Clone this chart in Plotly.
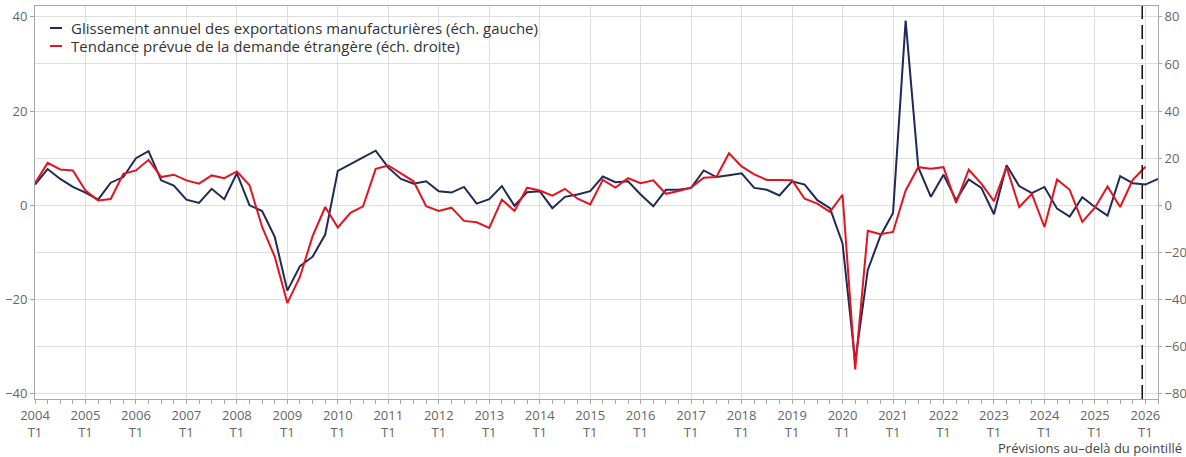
import plotly.graph_objects as go

# quarters 2004 T1 .. 2026 T2
years = list(range(2004, 2027))
quarters = [f"{y} T{q}" for y in years for q in range(1, 5)][:90]
idx = list(range(len(quarters)))

exports_yoy = [
    4.4, 7.7, 5.6, 3.9, 2.7, 1.2, 4.8, 6.0, 10.0, 11.5, 5.3, 4.2, 1.2, 0.5, 3.5, 1.3,
    6.8, 0.0, -1.2, -6.7, -18.1, -12.9, -10.9, -6.2, 7.3, 8.8, 10.2, 11.6, 8.0, 5.6, 4.6, 5.1,
    3.0, 2.7, 3.9, 0.35, 1.3, 4.1, -0.1, 2.8, 3.0, -0.6, 1.8, 2.3, 3.0, 6.1, 4.9, 5.1,
    2.3, -0.2, 3.3, 3.3, 3.7, 7.4, 6.0, 6.4, 6.8, 3.7, 3.3, 2.1, 5.1, 4.4, 1.1, -0.6,
    -8.1, -33.2, -13.7, -6.5, -1.6, 39.2, 8.1, 1.8, 6.5, 1.1, 5.5, 3.7, -1.9, 8.5, 4.1, 2.6,
    3.9, -0.7, -2.4, 1.7, -0.35, -2.2, 6.2, 4.7, 4.4, 5.6,
]

foreign_demand = [
    9.4, 18.0, 15.2, 14.8, 6.3, 2.1, 2.7, 13.4, 14.8, 19.3, 12.0, 13.0, 10.6, 9.2, 12.7, 11.5,
    14.4, 8.5, -9.2, -21.8, -41.5, -30.3, -13.1, -0.7, -9.4, -3.2, -0.4, 15.5, 16.9, 13.7, 10.2, -0.4,
    -2.4, -1.0, -6.6, -7.2, -9.6, 2.4, -2.4, 7.5, 6.3, 4.1, 7.0, 2.8, 0.4, 10.8, 7.5, 11.5,
    9.4, 10.6, 4.9, 6.1, 7.5, 11.7, 12.0, 22.1, 16.5, 13.1, 10.8, 10.7, 10.6, 2.8, 0.7, -2.8,
    4.5, -69.6, -10.8, -12.3, -11.3, 6.3, 16.2, 15.5, 16.2, 1.0, 15.1, 9.2, 1.8, 16.2, -0.7, 4.9,
    -9.2, 11.0, 6.6, -7.0, -1.0, 8.0, -0.7, 10.8, 16.4,
]

series_names = [
    "Glissement annuel des exportations manufacturières (éch. gauche)",
    "Tendance prévue de la demande étrangère (éch. droite)",
]

forecast_start = 87.75  # position of the dashed line

tick_vals = idx[::4]
tick_text = [f"{y}<br>T1" for y in years]

NAVY = "#1f2a56"
RED = "#e3141f"
GRID = "#dedede"
AXIS = "#a8a8a8"
TICKF = dict(family="Open Sans", size=13, color="#666666")

W, H = 1186, 457
ML, MR, MT, MB = 35, 28, 6, 58
PW, PH = W - ML - MR, H - MT - MB


def px_x(x):
    return (x - ML) / PW


def px_y(y):
    return (H - MB - y) / PH


fig = go.Figure()

fig.add_trace(go.Scatter(
    x=idx, y=exports_yoy, mode="lines", name=series_names[0],
    line=dict(color=NAVY, width=2),
))
fig.add_trace(go.Scatter(
    x=idx[:len(foreign_demand)], y=foreign_demand, mode="lines", yaxis="y2",
    name=series_names[1], line=dict(color=RED, width=2),
))

fig.add_vline(x=forecast_start, line=dict(color="#111111", width=1.5, dash="14px,6px"))

# legend drawn by hand: white box over the grid, short line keys, text
fig.add_shape(type="rect", xref="paper", yref="paper", layer="between",
              x0=px_x(36), x1=px_x(547), y0=px_y(58), y1=1,
              fillcolor="white", line=dict(width=0))
for name, color, ypx in zip(series_names, [NAVY, RED], [28, 46]):
    fig.add_shape(type="line", xref="paper", yref="paper",
                  x0=px_x(50), x1=px_x(62), y0=px_y(ypx), y1=px_y(ypx),
                  line=dict(color=color, width=2))
    fig.add_annotation(text=name, xref="paper", yref="paper",
                       x=px_x(69), y=px_y(ypx), xanchor="left", yanchor="middle",
                       showarrow=False,
                       font=dict(family="Open Sans", size=15, color="#333333"))

fig.add_annotation(
    text="Prévisions au–delà du pointillé", xref="paper", yref="paper",
    x=1.0, y=0, xanchor="right", yanchor="top", yshift=-38, xshift=26,
    showarrow=False, font=dict(family="Open Sans", size=13, color="#444444"),
)

fig.update_layout(
    width=W, height=H, autosize=False,
    margin=dict(l=ML, r=MR, t=MT, b=MB, autoexpand=False),
    paper_bgcolor="white", plot_bgcolor="white",
    font=dict(family="Open Sans", color="#333333"),
    showlegend=False,
    xaxis=dict(
        range=[0, 89], tickvals=tick_vals, ticktext=tick_text,
        showgrid=True, gridcolor=GRID, gridwidth=1,
        showline=True, linecolor=AXIS, linewidth=1, mirror=True,
        ticks="outside", ticklen=4, tickcolor=AXIS,
        minor=dict(dtick=1, tick0=0, ticks="outside", ticklen=4, tickcolor=AXIS, showgrid=False),
        tickfont=TICKF, zeroline=False,
    ),
    yaxis=dict(
        range=[-41.1, 42.3], tickvals=[-40, -20, 0, 20, 40],
        showgrid=True, gridcolor=GRID, gridwidth=1,
        showline=True, linecolor=AXIS, linewidth=1,
        ticks="outside", ticklen=4, tickcolor=AXIS,
        tickfont=TICKF, zeroline=False,
    ),
    yaxis2=dict(
        range=[-82.2, 84.6], tickvals=[-80, -60, -40, -20, 0, 20, 40, 60, 80],
        overlaying="y", side="right",
        showgrid=True, gridcolor=GRID, gridwidth=1,
        showline=True, linecolor=AXIS, linewidth=1,
        ticks="outside", ticklen=3, tickcolor=AXIS,
        tickfont=TICKF, zeroline=False,
    ),
)

fig.write_html(
    "out.html",
    config={"displayModeBar": False, "responsive": False},
    post_script=(
        "document.documentElement.style.overflow='hidden';"
        "document.body.style.overflow='hidden';"
        "document.body.style.margin='0';"
        "Plotly.relayout('{plot_id}', {width: 1186, height: 457});"
    ),
)
